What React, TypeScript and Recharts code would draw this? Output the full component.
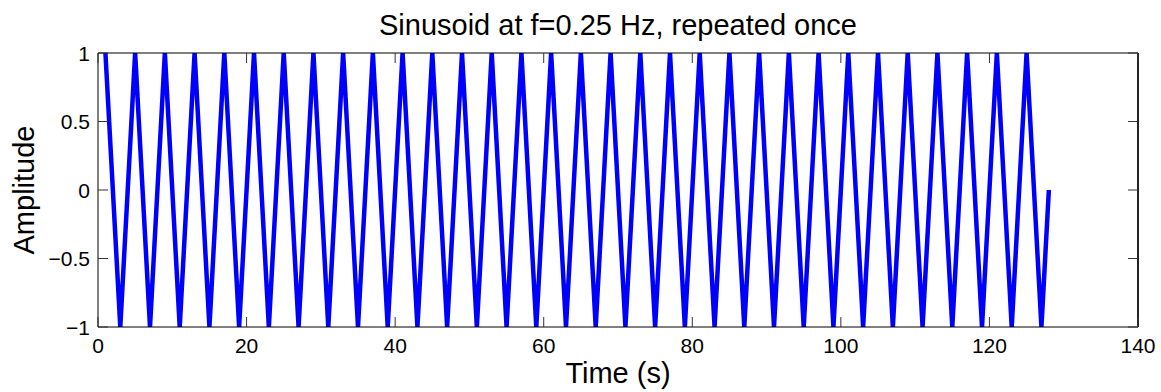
import { LineChart, Line, XAxis, YAxis, Label } from "recharts";

const W = 1161;
const H = 392;
const FONT = "'Liberation Sans', Arial, Helvetica, sans-serif";
const BLUE = "#0000ff";
const TICK = "#333333";

const TITLE = "Sinusoid at f=0.25 Hz, repeated once";
const X_LABEL = "Time (s)";
const Y_LABEL = "Amplitude";

const X_TICKS = [0, 20, 40, 60, 80, 100, 120, 140];
const Y_TICKS = [-1, -0.5, 0, 0.5, 1];

// sample times (s)
const time = [
  1, 2, 3, 4, 5, 6, 7, 8, 9, 10, 11, 12, 13, 14, 15, 16,
  17, 18, 19, 20, 21, 22, 23, 24, 25, 26, 27, 28, 29, 30, 31, 32,
  33, 34, 35, 36, 37, 38, 39, 40, 41, 42, 43, 44, 45, 46, 47, 48,
  49, 50, 51, 52, 53, 54, 55, 56, 57, 58, 59, 60, 61, 62, 63, 64,
  65, 66, 67, 68, 69, 70, 71, 72, 73, 74, 75, 76, 77, 78, 79, 80,
  81, 82, 83, 84, 85, 86, 87, 88, 89, 90, 91, 92, 93, 94, 95, 96,
  97, 98, 99, 100, 101, 102, 103, 104, 105, 106, 107, 108, 109, 110, 111, 112,
  113, 114, 115, 116, 117, 118, 119, 120, 121, 122, 123, 124, 125, 126, 127, 128,
];

// amplitude
const amplitude = [
  1, 0, -1, 0, 1, 0, -1, 0, 1, 0, -1, 0, 1, 0, -1, 0,
  1, 0, -1, 0, 1, 0, -1, 0, 1, 0, -1, 0, 1, 0, -1, 0,
  1, 0, -1, 0, 1, 0, -1, 0, 1, 0, -1, 0, 1, 0, -1, 0,
  1, 0, -1, 0, 1, 0, -1, 0, 1, 0, -1, 0, 1, 0, -1, 0,
  1, 0, -1, 0, 1, 0, -1, 0, 1, 0, -1, 0, 1, 0, -1, 0,
  1, 0, -1, 0, 1, 0, -1, 0, 1, 0, -1, 0, 1, 0, -1, 0,
  1, 0, -1, 0, 1, 0, -1, 0, 1, 0, -1, 0, 1, 0, -1, 0,
  1, 0, -1, 0, 1, 0, -1, 0, 1, 0, -1, 0, 1, 0, -1, 0,
];

const data = time.map((t, i) => ({ t, y: amplitude[i] }));

const fmt = (v: number) => String(v).replace("-", "\u2212");

const BottomTick = (p: any) => (
  <g>
    <line x1={p.x} x2={p.x} y1={p.y} y2={p.y - 10} stroke={TICK} />
    <text x={p.x} y={p.y + 26} textAnchor="middle" fontSize={21} fontFamily={FONT} fill="#000">
      {fmt(p.payload.value)}
    </text>
  </g>
);

const TopTick = (p: any) => (
  <line x1={p.x} x2={p.x} y1={p.y} y2={p.y + 10} stroke={TICK} />
);

const LeftTick = (p: any) => (
  <g>
    <line x1={p.x} x2={p.x + 10} y1={p.y} y2={p.y} stroke={TICK} />
    <text x={p.x - 8} y={p.y + 7.5} textAnchor="end" fontSize={21} fontFamily={FONT} fill="#000">
      {fmt(p.payload.value)}
    </text>
  </g>
);

const RightTick = (p: any) => (
  <line x1={p.x} x2={p.x - 10} y1={p.y} y2={p.y} stroke={TICK} />
);

export default function App() {
  return (
    <div style={{ position: "absolute", left: 0, top: 0, width: W, height: H, background: "#fff" }}>
      <LineChart width={W} height={H} data={data} margin={{ top: 52, right: 22, bottom: 0, left: 0 }}>
        <XAxis
          xAxisId="b"
          dataKey="t"
          type="number"
          domain={[0, 140]}
          ticks={X_TICKS}
          height={65}
          tickLine={false}
          tickSize={0}
          tickMargin={0}
          tick={BottomTick}
          axisLine={{ stroke: "#000" }}
          interval={0}
        >
          <Label
            content={(props: any) => {
              const vb = props.viewBox;
              return (
                <text x={vb.x + vb.width / 2} y={vb.y + 56} textAnchor="middle" fontSize={29} fontFamily={FONT} fill="#000">
                  {X_LABEL}
                </text>
              );
            }}
          />
        </XAxis>
        <XAxis
          xAxisId="t"
          orientation="top"
          dataKey="t"
          type="number"
          domain={[0, 140]}
          ticks={X_TICKS}
          height={1}
          tickLine={false}
          tickSize={0}
          tickMargin={0}
          tick={TopTick}
          axisLine={{ stroke: "#000" }}
          interval={0}
        >
          <Label
            content={(props: any) => {
              const vb = props.viewBox;
              return (
                <text x={vb.x + vb.width / 2} y={35} textAnchor="middle" fontSize={29} fontFamily={FONT} fill="#000">
                  {TITLE}
                </text>
              );
            }}
          />
        </XAxis>
        <YAxis
          yAxisId="l"
          type="number"
          domain={[-1, 1]}
          ticks={Y_TICKS}
          width={98}
          allowDataOverflow
          tickLine={false}
          tickSize={0}
          tickMargin={0}
          tick={LeftTick}
          axisLine={{ stroke: "#000" }}
          interval={0}
        >
          <Label
            content={(props: any) => {
              const vb = props.viewBox;
              const cy = vb.y + vb.height / 2;
              return (
                <text
                  transform={`translate(34, ${cy}) rotate(-90)`}
                  textAnchor="middle"
                  fontSize={29}
                  fontFamily={FONT}
                  fill="#000"
                >
                  {Y_LABEL}
                </text>
              );
            }}
          />
        </YAxis>
        <YAxis
          yAxisId="r"
          orientation="right"
          type="number"
          domain={[-1, 1]}
          ticks={Y_TICKS}
          width={1}
          allowDataOverflow
          tickLine={false}
          tickSize={0}
          tickMargin={0}
          tick={RightTick}
          axisLine={{ stroke: "#222", strokeWidth: 2 }}
          interval={0}
        />
        <Line
          xAxisId="t"
          yAxisId="r"
          dataKey="y"
          type="linear"
          stroke="none"
          strokeWidth={0}
          dot={false}
          activeDot={false}
          isAnimationActive={false}
        />
        <Line
          xAxisId="b"
          yAxisId="l"
          dataKey="y"
          type="linear"
          stroke={BLUE}
          strokeWidth={4.5}
          dot={false}
          isAnimationActive={false}
        />
      </LineChart>
    </div>
  );
}
